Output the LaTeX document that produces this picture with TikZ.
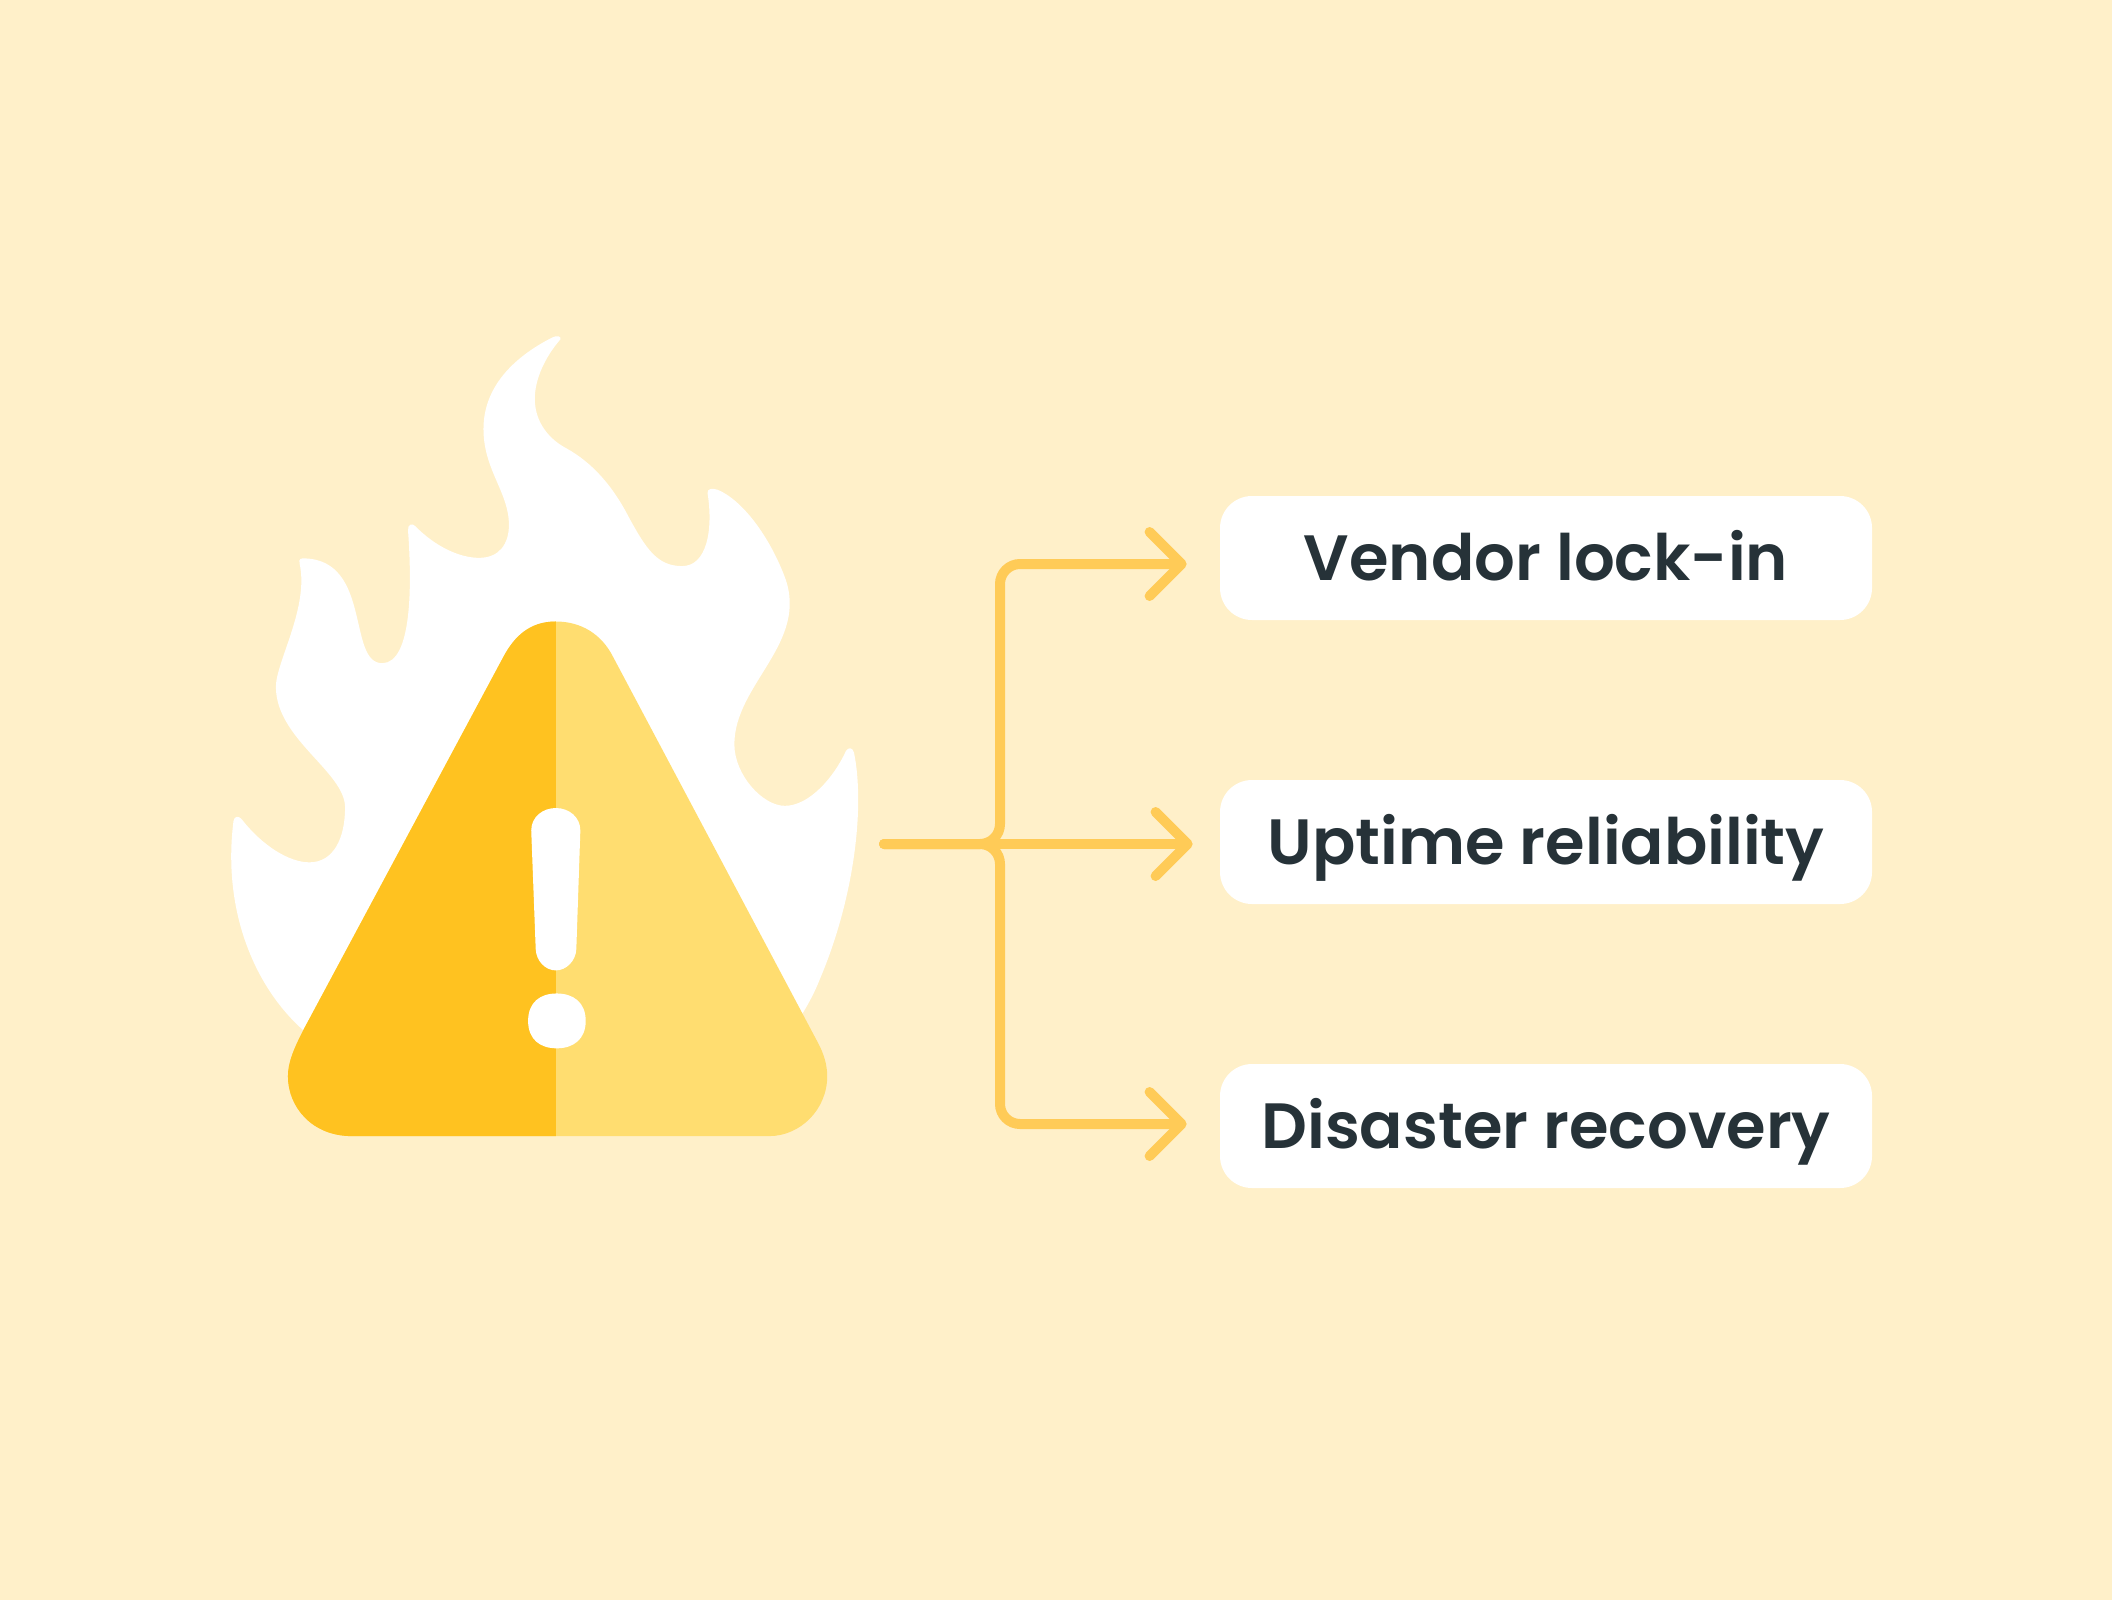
\documentclass[tikz,border=0pt]{standalone}
\usepackage{fontspec}
\usetikzlibrary{arrows.meta,calc}
\setmainfont{Poppins}[UprightFont=* SemiBold,BoldFont=* Bold]
\definecolor{paper}{HTML}{FFF0C9}
\definecolor{wire}{HTML}{FFCB57}
\definecolor{warnDark}{HTML}{FFC220}
\definecolor{warnLight}{HTML}{FFDD70}
\definecolor{ink}{HTML}{263238}
\tikzset{
  labelbox/.style={fill=white,rounded corners=16pt,minimum width=326pt,minimum height=62pt,
    inner sep=0pt,text=ink,text height=24pt,text depth=1.4pt,font=\fontsize{32}{38}\selectfont},
  link/.style={draw=wire,line width=5pt,line cap=round,line join=round,rounded corners=10pt,
    -{Straight Barb[length=16pt,width=32pt,round]}},
  art/.style={x=0.2232pt,y=-0.2743pt,shift={(100pt,-150pt)}},
}
% Rounded warning triangle, shared by both halves
\newcommand{\warnoutline}{(797,586)
  .. controls (740,586) and (705,612) .. (680,650)
  -- (232,1330)
  .. controls (210,1365) and (197,1390) .. (197,1415)
  .. controls (197,1470) and (250,1524) .. (340,1524)
  -- (1275,1524)
  .. controls (1345,1524) and (1405,1475) .. (1405,1415)
  .. controls (1405,1395) and (1398,1375) .. (1385,1355)
  -- (925,650)
  .. controls (900,610) and (855,586) .. (797,586) -- cycle}
\begin{document}
\begin{tikzpicture}[x=0.5pt,y=-0.5pt]
\useasboundingbox[fill=paper] (0,0) rectangle (2112,1600);

\begin{scope}[art]
  % Flame behind the triangle
  \fill[white] (807,72)
    .. controls (772,105) and (750,145) .. (750,180)
    .. controls (750,225) and (785,255) .. (820,270)
    .. controls (880,297) and (925,340) .. (960,395)
    .. controls (1000,455) and (1025,485) .. (1080,485)
    .. controls (1135,485) and (1150,420) .. (1137,352)
    .. controls (1135,343) and (1150,343) .. (1160,346)
    .. controls (1215,365) and (1275,430) .. (1310,505)
    .. controls (1365,625) and (1197,700) .. (1197,810)
    .. controls (1197,865) and (1260,922) .. (1310,922)
    .. controls (1365,922) and (1420,870) .. (1447,822)
    .. controls (1452,815) and (1462,815) .. (1465,825)
    .. controls (1490,925) and (1465,1090) .. (1390,1235)
    .. controls (1378,1260) and (1365,1280) .. (1350,1300)
    -- (1200,1450) -- (400,1450) -- (230,1330)
    .. controls (120,1250) and (50,1110) .. (75,950)
    .. controls (76,940) and (88,940) .. (94,947)
    .. controls (140,995) and (200,1025) .. (245,1025)
    .. controls (300,1025) and (325,980) .. (325,925)
    .. controls (325,860) and (170,800) .. (170,705)
    .. controls (170,660) and (245,560) .. (223,480)
    .. controls (221,471) and (226,471) .. (235,471)
    .. controls (385,475) and (330,662) .. (408,662)
    .. controls (475,662) and (475,520) .. (466,420)
    .. controls (465,409) and (475,406) .. (482,412)
    .. controls (525,448) and (580,470) .. (625,470)
    .. controls (670,470) and (692,445) .. (692,410)
    .. controls (692,350) and (635,310) .. (635,235)
    .. controls (635,160) and (700,105) .. (790,68)
    .. controls (800,64) and (810,66) .. (807,72) -- cycle;
  % Warning triangle: light half, then dark half
  \fill[warnLight] \warnoutline;
  \begin{scope}
    \clip (0,0) rectangle (797,1600);
    \fill[warnDark] \warnoutline;
  \end{scope}
  % Exclamation mark
  \fill[white] (742,967)
    .. controls (742,942) and (768,926) .. (797,926)
    .. controls (826,926) and (852,942) .. (852,967)
    -- (843,1183)
    .. controls (842,1205) and (820,1222) .. (797,1222)
    .. controls (774,1222) and (753,1205) .. (752,1183) -- cycle;
  \fill[white] (735,1314)
    .. controls (735,1280) and (762,1264) .. (799,1264)
    .. controls (836,1264) and (864,1280) .. (864,1314)
    .. controls (864,1348) and (836,1364) .. (799,1364)
    .. controls (762,1364) and (735,1348) .. (735,1314) -- cycle;
\end{scope}

% Outcome labels
\node[labelbox] (vendor)   at (1546,558)  {Vendor lock-in};
\node[labelbox] (uptime)   at (1546,842)  {Uptime reliability};
\node[labelbox] (disaster) at (1546,1126) {Disaster recovery};

% Branching connectors from one common source
\coordinate (source) at (884,844);
\coordinate (bus) at (1000,844);
\draw[link,shorten >=16.5pt] (source) -- (bus) -- (bus |- {0,564}) -- (vendor.west |- {0,564});
\draw[link,shorten >=13.5pt] (source) -- (uptime.west |- source);
\draw[link,shorten >=16.5pt] (source) -- (bus) -- (bus |- {0,1124}) -- (disaster.west |- {0,1124});
\end{tikzpicture}
\end{document}
